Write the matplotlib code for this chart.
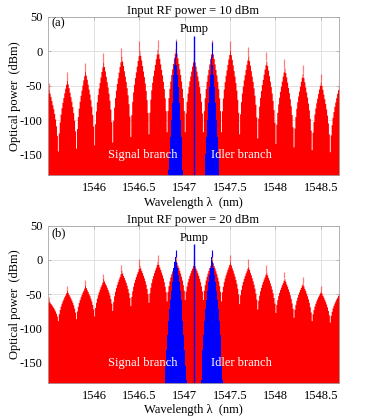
import numpy as np
import matplotlib.pyplot as plt

plt.rcParams["font.family"] = ["Liberation Serif", "DejaVu Serif"]
plt.rcParams["font.size"] = 9
plt.rcParams["axes.unicode_minus"] = False

# comb mode centres (nm), shared by both panels
lobe_wl = [1545.5, 1545.7, 1545.9, 1546.1, 1546.3, 1546.5, 1546.7, 1546.9, 1547.1,
           1547.3, 1547.5, 1547.7, 1547.9, 1548.1, 1548.3, 1548.5, 1548.7]
line_step = 0.01   # spacing of the fine lines inside one mode (nm)

# (a) 10 dBm RF: peak of each mode and the floor between modes (dBm)
peak_a = [-46, -31, -17, -3, 5, 14, 16, 17, 2, 16, 15, 6, -1, -12, -20, -33, -40]
valley_a = [-148, -145, -141, -136, -132, -124, -120, -117, -117, -117, -117,
            -120, -126, -134, -139, -143, -146, -148]
# fraction of the peak-to-floor drop for fine lines 0..10 away from the centre
prof_a = [0.10, 0.15, 0.20, 0.26, 0.32, 0.38, 0.45, 0.53, 0.63, 0.77, 1.0]

# (b) 20 dBm RF
peak_b = [-55, -38, -30, -20, -7, 1, 7, 10, 4, 10, 7, 1, -8, -18, -25, -38, -42]
valley_b = [-90, -89, -86, -82, -74, -67, -62, -60, -58, -58, -60, -64, -72,
            -77, -84, -89, -91, -92]
prof_b = [0.14, 0.20, 0.26, 0.31, 0.37, 0.43, 0.50, 0.58, 0.68, 0.80, 1.0]

# signal / idler branches (blue)
branch_wl = [1546.9, 1547.3]
blue_tip_a = [14, 13]
blue_steps_a = [-8, -20, -35, -52, -75, -100, -125, -150, -172]
blue_tip_b = [14, 14]
blue_steps_b = [4, -3, -12, -22, -33, -45, -58, -72, -90, -110, -132, -155, -176]

pump_wl = 1547.1
pump_peak = [22, 23]

titles = ["Input RF power = 10 dBm", "Input RF power = 20 dBm"]
tags = ["(a)", "(b)"]
xticks = [1546, 1546.5, 1547, 1547.5, 1548, 1548.5]
yticks = [-150, -100, -50, 0, 50]


def comb(peaks, valleys, prof):
    n = len(prof) - 1
    idx, lev = [], []
    for k, (c, p) in enumerate(zip(lobe_wl, peaks)):
        base = int(round((c - lobe_wl[0]) / line_step))
        for j in range(-n, n + 1):
            v = valleys[k] if j < 0 else valleys[k + 1]
            idx.append(base + j + n)
            lev.append(p - prof[abs(j)] * (p - v))
    arr = np.full(max(idx) + 1, -200.0)
    np.maximum.at(arr, np.array(idx), np.array(lev))
    wl = lobe_wl[0] + (np.arange(len(arr)) - n) * line_step
    return wl, arr


def branch(c, steps):
    m = len(steps) - 1
    j = np.arange(-m, m + 1)
    return c + j * line_step, np.array([steps[abs(i)] for i in j])


fig = plt.figure(figsize=(3.74, 4.16), dpi=100)
boxes = [[0.128, 0.579, 0.778, 0.381], [0.128, 0.080, 0.778, 0.377]]
data = [(peak_a, valley_a, prof_a, blue_tip_a, blue_steps_a),
        (peak_b, valley_b, prof_b, blue_tip_b, blue_steps_b)]

for i, (peaks, valleys, prof, btip, bsteps) in enumerate(data):
    ax = fig.add_axes(boxes[i])
    wl, lev = comb(peaks, valleys, prof)
    ax.fill_between(wl, -200, lev, step="mid", color="red", lw=0)
    body = [p - prof[0] * (p - valleys[k]) for k, p in enumerate(peaks)]
    ax.vlines(lobe_wl, body, peaks, color="red", alpha=0.5, lw=0.9)

    for c, t in zip(branch_wl, btip):
        bx, by = branch(c, bsteps)
        ax.fill_between(bx, -200, by, step="mid", color="blue", lw=0)
        ax.vlines(c, bsteps[0], t, color="blue", lw=0.8)
    ax.vlines(pump_wl, -200, pump_peak[i], color="blue", lw=1.0)

    ax.text(pump_wl, 32, "Pump", ha="center", va="center")
    ax.text(1546.54, -151, "Signal branch", color="white", ha="center", va="center")
    ax.text(1547.62, -151, "Idler branch", color="white", ha="center", va="center")
    ax.text(0.012, 0.955, tags[i], transform=ax.transAxes, ha="left", va="center")

    ax.set_xlim(1545.49, 1548.70)
    ax.set_ylim(-180, 50)
    ax.set_xticks(xticks)
    ax.set_xticklabels(["1546", "1546.5", "1547", "1547.5", "1548", "1548.5"])
    ax.set_yticks(yticks)
    ax.grid(True, color="#dcdcdc", lw=0.6)
    ax.set_axisbelow(True)
    for s in ax.spines.values():
        s.set_color("#a6a6a6")
        s.set_linewidth(0.6)
    ax.tick_params(direction="in", length=2.5, width=0.5, color="#a6a6a6",
                   top=True, right=True, labelcolor="black")
    ax.tick_params(axis="x", pad=5)
    ax.tick_params(axis="y", pad=4)
    ax.set_title(titles[i], pad=2, fontsize=9)
    ax.set_xlabel("Wavelength λ  (nm)", labelpad=2)
    ax.set_ylabel("Optical power  (dBm)", labelpad=-1)

fig.savefig("out.png", dpi=100)
